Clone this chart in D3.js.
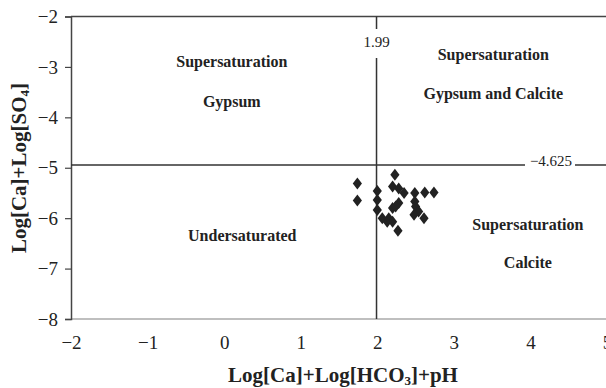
<!DOCTYPE html>
<html><head><meta charset="utf-8">
<script src="https://cdn.jsdelivr.net/npm/d3@7/dist/d3.min.js"></script>
<style>body{margin:0;background:#fff}svg{display:block}</style>
</head><body>
<svg id="c" width="606" height="388"></svg>
<script>
const xTicks = [-2,-1,0,1,2,3,4,5];
const yTicks = [-2,-3,-4,-5,-6,-7,-8];
const calciteX = [1.74,1.74,2.00,2.00,2.00,2.065,2.13,2.20,2.20,2.23,2.28,2.35,2.28,2.24,2.15,2.20,2.27,2.49,2.49,2.50,2.62,2.74,2.54,2.61,2.48];
const gypsumY  = [-5.31,-5.65,-5.46,-5.64,-5.84,-6.00,-6.07,-5.37,-5.80,-5.14,-5.41,-5.50,-5.70,-5.77,-6.00,-6.07,-6.25,-5.50,-5.67,-5.77,-5.49,-5.49,-5.87,-6.00,-5.93];
const vLineValue = 1.99, vLineLabel = "1.99";
const hLineValue = -4.945, hLineLabel = "\u22124.625";
const regionLabels = [
  {lines:["Supersaturation","Gypsum"], x:0.10, y:[-3.00,-3.80]},
  {lines:["Supersaturation","Gypsum and Calcite"], x:3.515, y:[-2.863,-3.637]},
  {lines:["Undersaturated"], x:0.237, y:[-6.454]},
  {lines:["Supersaturation","Calcite"], x:3.966, y:[-6.236,-6.99]}
];

const svg = d3.select("#c");
const x = d3.scaleLinear().domain([-2,5]).range([71,607]);
const y = d3.scaleLinear().domain([-2,-8]).range([16.5,319]);
const serif = "'Liberation Serif','Times New Roman',serif";
const fmt = d => String(d).replace("-","\u2212");

// top border
svg.append("line").attr("x1",x(-2)).attr("x2",606).attr("y1",y(-2)).attr("y2",y(-2))
  .attr("stroke","#444").attr("stroke-width",1.5);

// bottom axis line
svg.append("line").attr("x1",x(-2)).attr("x2",606).attr("y1",y(-8)).attr("y2",y(-8))
  .attr("stroke","#aaa").attr("stroke-width",1.5);

// y axis
const ya = svg.append("g").attr("transform",`translate(${x(-2)},0)`)
  .call(d3.axisLeft(y).tickValues(yTicks).tickSize(6).tickPadding(7).tickFormat(fmt));
ya.select(".domain").attr("stroke","#444").attr("stroke-width",1.5);
ya.selectAll(".tick line").attr("stroke","#444").attr("stroke-width",1.2);
ya.selectAll("text").attr("font-family",serif).attr("font-size",19).attr("fill","#222");

// x axis labels
const xa = svg.append("g").attr("transform",`translate(0,${y(-8)})`)
  .call(d3.axisBottom(x).tickValues(xTicks).tickSize(0).tickPadding(17).tickFormat(fmt));
xa.select(".domain").remove();
xa.selectAll("text").attr("font-family",serif).attr("font-size",19).attr("fill","#222");

// reference lines
svg.append("line").attr("x1",x(vLineValue)).attr("x2",x(vLineValue)).attr("y1",y(-2)).attr("y2",y(-8))
  .attr("stroke","#333").attr("stroke-width",1.5);
svg.append("line").attr("x1",x(-2)).attr("x2",606).attr("y1",y(hLineValue)).attr("y2",y(hLineValue))
  .attr("stroke","#333").attr("stroke-width",1.5);

// reference labels on white boxes
svg.append("rect").attr("x",x(vLineValue)-14).attr("y",29).attr("width",28).attr("height",29).attr("fill","#fff");
svg.append("text").attr("x",x(vLineValue)).attr("y",47).attr("text-anchor","middle")
  .attr("font-family",serif).attr("font-size",15).attr("fill","#222").text(vLineLabel);
svg.append("rect").attr("x",525).attr("y",y(hLineValue)-2).attr("width",50).attr("height",4).attr("fill","#fff");
svg.append("text").attr("x",551).attr("y",y(hLineValue)+1.5).attr("text-anchor","middle")
  .attr("font-family",serif).attr("font-size",15).attr("fill","#222").text(hLineLabel);

// region labels
regionLabels.forEach(r=>{
  r.lines.forEach((t,i)=>{
    svg.append("text").attr("x",x(r.x)).attr("y",y(r.y[i])).attr("text-anchor","middle")
      .attr("font-family",serif).attr("font-weight","bold").attr("font-size",16).attr("fill","#222").text(t);
  });
});

// points
const pts = calciteX.map((v,i)=>({x:v,y:gypsumY[i]}));
svg.append("g").selectAll("path").data(pts).join("path")
  .attr("transform",d=>`translate(${x(d.x)},${y(d.y)})`)
  .attr("d","M0,-6L4.6,0L0,6L-4.6,0Z").attr("fill","#222");

// axis titles
const xt = svg.append("text").attr("x",343).attr("y",382).attr("text-anchor","middle")
  .attr("font-family",serif).attr("font-weight","bold").attr("font-size",21).attr("fill","#222");
xt.append("tspan").text("Log[Ca]+Log[HCO");
xt.append("tspan").attr("font-size",13).attr("dy",3).text("3");
xt.append("tspan").attr("dy",-3).text("]+pH");

const yt = svg.append("text").attr("transform","translate(26,168) rotate(-90)").attr("text-anchor","middle")
  .attr("font-family",serif).attr("font-weight","bold").attr("font-size",21).attr("fill","#222");
yt.append("tspan").text("Log[Ca]+Log[SO");
yt.append("tspan").attr("font-size",13).attr("dy",3).text("4");
yt.append("tspan").attr("dy",-3).text("]");
</script>
</body></html>
